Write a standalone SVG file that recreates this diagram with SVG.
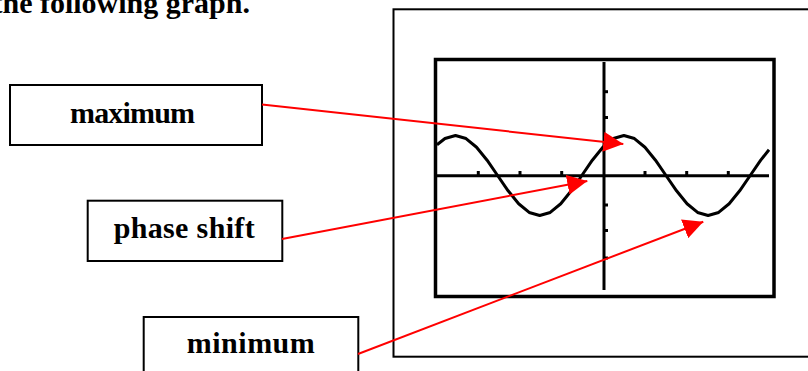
<svg xmlns="http://www.w3.org/2000/svg" width="808" height="371" viewBox="0 0 808 371">
<style>
.lbl{font-family:"Liberation Serif","Times New Roman",serif;font-weight:bold;font-size:30px;fill:#000;text-anchor:middle}
.box{fill:#fff;stroke:#000;stroke-width:2}
.conn{stroke:#ff0000;stroke-width:2;fill:none;marker-end:url(#ah)}
.tick{stroke:#000;stroke-width:3}
</style>
<defs>
<marker id="ah" markerUnits="userSpaceOnUse" markerWidth="20" markerHeight="20" refX="20" refY="10" orient="auto" viewBox="0 0 20 20">
<path d="M0,0 L20,10 L0,20 z" fill="#ff0000"/>
</marker>
</defs>
<rect width="808" height="371" fill="#fff"/>
<text x="250" y="12.5" font-family="'Liberation Serif','Times New Roman',serif" font-weight="bold" font-size="30" text-anchor="end">the following graph.</text>
<g id="frame">
<rect x="393.5" y="9.3" width="430" height="347.4" fill="none" stroke="#000" stroke-width="2"/>
</g>
<g id="graph">
<rect x="435.5" y="59.5" width="338.5" height="237" fill="#fff" stroke="#000" stroke-width="3.5"/>
<line x1="437" y1="175.7" x2="769" y2="175.7" stroke="#000" stroke-width="3"/>
<line x1="604" y1="62" x2="604" y2="290" stroke="#000" stroke-width="3"/>
<g class="tick">
<line x1="478.3" y1="171" x2="478.3" y2="175"/>
<line x1="520" y1="171" x2="520" y2="175"/>
<line x1="561.7" y1="171" x2="561.7" y2="175"/>
<line x1="645" y1="171" x2="645" y2="175"/>
<line x1="686.7" y1="171" x2="686.7" y2="175"/>
<line x1="728.3" y1="171" x2="728.3" y2="175"/>
<line x1="604" y1="91.7" x2="608" y2="91.7"/>
<line x1="604" y1="117.5" x2="608" y2="117.5"/>
<line x1="604" y1="205" x2="608" y2="205"/>
<line x1="604" y1="230.5" x2="608" y2="230.5"/>
<line x1="604" y1="258" x2="608" y2="258"/>
</g>
<polyline fill="none" stroke="#000" stroke-width="3" stroke-linejoin="round" points="437,144.7 444.98,138.54 455.5,135.5 466.03,138.54 476.55,147.22 487.08,160.19 497.6,175.5 508.13,190.81 518.65,203.78 529.18,212.46 539.7,215.5 550.23,212.46 560.75,203.78 571.28,190.81 581.8,175.5 592.33,160.19 602.85,147.22 613.38,138.54 623.9,135.5 634.43,138.54 644.95,147.22 655.48,160.19 666,175.5 676.53,190.81 687.05,203.78 697.58,212.46 708.1,215.5 718.63,212.46 729.15,203.78 739.68,190.81 750.2,175.5 760.73,160.19 769,149.7"/>
</g>
<g id="maximum">
<rect class="box" x="10" y="85" width="252" height="60"/>
<text class="lbl" x="132.5" y="122.7" textLength="125">maximum</text>
</g>
<g id="phase-shift">
<rect class="box" x="87.7" y="200.7" width="194.6" height="60.3"/>
<text class="lbl" x="184.2" y="238.3" textLength="141">phase shift</text>
</g>
<g id="minimum">
<rect class="box" x="143.7" y="317" width="214.6" height="70"/>
<text class="lbl" x="250.8" y="353.3" textLength="128">minimum</text>
</g>
<g id="connectors">
<line class="conn" x1="262" y1="104.5" x2="623.3" y2="144"/>
<line class="conn" x1="282" y1="239" x2="587.3" y2="181"/>
<line class="conn" x1="358" y1="354" x2="703.3" y2="221.7"/>
</g>
</svg>
